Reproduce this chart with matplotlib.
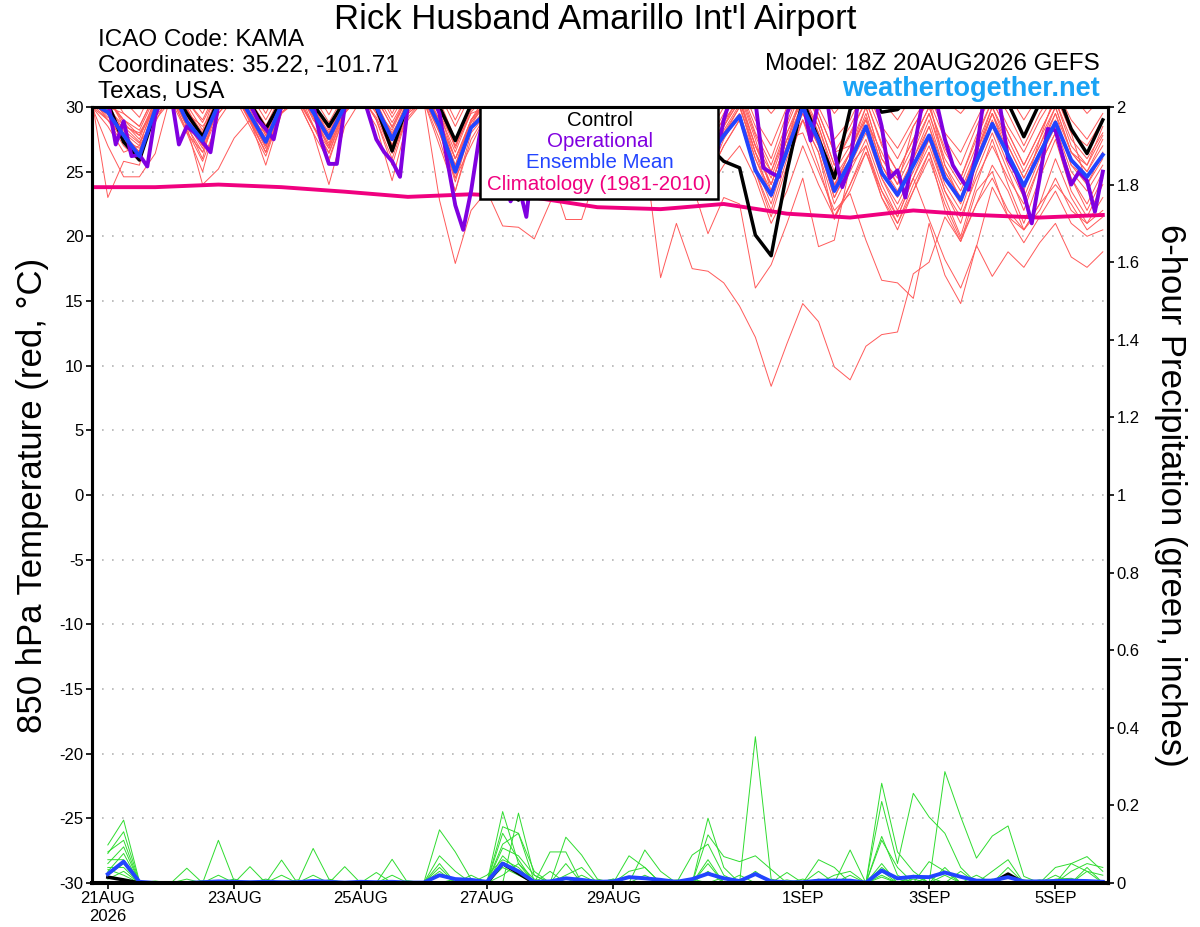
import numpy as np
import matplotlib
matplotlib.use("Agg")
import matplotlib.pyplot as plt
from matplotlib.patches import Rectangle

plt.rcParams['font.family'] = ['Liberation Sans', 'DejaVu Sans']
plt.rcParams['axes.unicode_minus'] = False

# forecast hours of the 18Z 20AUG2026 GEFS run
hours = np.arange(0, 385, 6)
op_hours = np.arange(0, 385, 3)       # operational run is 3-hourly
precip_hours = hours[1:]              # 6-h totals ending at each step
clim_hours = np.arange(0, 385, 24)

tick_hours = [6, 54, 102, 150, 198, 270, 318, 366]
tick_labels = ["21AUG\n2026", "23AUG", "25AUG", "27AUG", "29AUG", "1SEP", "3SEP", "5SEP"]

# 850 hPa temperature (C)
mean_t = [30.3, 29.6, 27.8, 26.2, 29.8, 31.5, 28.9, 27.4, 30.2, 31.5, 29.4, 27.3, 30.2,
          31.5, 29.6, 27.6, 30.1, 31.5, 30.0, 27.5, 30.1, 31.0, 28.5, 25.0, 28.4,
          29.6, 27.2, 24.8, 27.4, 29.2, 27.6, 25.8, 27.8, 29.3, 27.9, 25.9, 27.9,
          29.0, 27.4, 25.9, 27.8, 29.3, 25.1, 23.2, 26.6, 30.0, 27.4, 23.5, 25.8,
          28.5, 24.9, 23.2, 25.5, 27.8, 24.5, 22.8, 25.8, 28.7, 26.3, 23.9, 26.4, 28.8, 25.9, 24.6, 26.3]

control_t = [31.0, 30.3, 27.3, 25.9, 29.6, 31.5, 29.5, 27.7, 30.5, 31.5, 30.3, 28.3, 30.5,
             31.5, 30.2, 28.5, 30.5, 31.5, 30.0, 26.6, 30.3, 31.5, 30.0, 27.4, 30.2,
             30.0, 23.8, 22.8, 26.0, 29.0, 27.5, 25.5, 28.0, 29.5, 28.0, 26.0, 28.0,
             29.5, 28.5, 27.0, 25.8, 25.3, 20.1, 18.5, 25.0, 30.5, 27.5, 24.5, 29.8,
             31.0, 29.6, 29.8, 31.0, 32.5, 31.0, 30.5, 31.0, 32.5, 30.3, 27.7, 30.3, 31.5, 28.3, 26.4, 29.0]

operational_t = [31.0, 31.0, 30.5, 27.1, 28.9, 26.2, 26.3, 25.4, 29.3, 31.0, 31.0, 27.1, 28.5, 28.0, 27.3, 26.5,
                 30.2, 31.0, 31.5, 31.0, 30.2, 29.0, 28.3, 27.5, 30.2, 31.5, 31.5, 31.0, 30.2, 27.4, 25.6, 25.6,
                 30.0, 31.5, 31.5, 29.5, 27.5, 26.5, 25.8, 24.6, 30.2, 31.5, 31.5, 31.0, 29.5, 25.8, 22.4, 20.5,
                 23.5, 27.5, 30.5, 29.0, 25.0, 22.7, 24.0, 21.5, 27.0, 30.0, 31.0, 30.0, 28.0, 26.5, 25.0, 24.5,
                 28.0, 30.5, 31.0, 29.5, 27.5, 26.0, 25.0, 24.5, 28.0, 30.5, 31.0, 29.5, 27.5, 26.0, 25.0, 26.0,
                 29.0, 31.0, 31.5, 31.0, 30.5, 25.3, 24.9, 24.6, 29.5, 31.0, 30.5, 27.4, 30.5, 31.0, 26.5, 23.8,
                 25.5, 30.5, 31.0, 31.0, 28.5, 24.5, 25.1, 23.0, 26.5, 29.8, 31.0, 30.2, 27.5, 25.5, 24.5, 23.6,
                 26.5, 31.0, 31.0, 30.0, 26.0, 24.9, 23.3, 21.0, 24.5, 28.3, 28.2, 26.0, 24.0, 25.0, 24.3, 21.9,
                 25.0]

climatology = [23.8, 23.8, 24.0, 23.8, 23.45, 23.05, 23.25, 23.0, 22.25,
               22.1, 22.5, 21.75, 21.45, 22.0, 21.65, 21.45, 21.65]

mem_01 = [31.0, 31.5, 29.5, 28.5, 31.0, 32.5, 30.5, 29.0, 31.5, 32.5, 31.0, 29.0, 31.2,
          32.5, 30.8, 28.8, 31.0, 32.5, 31.5, 29.2, 31.3, 32.8, 31.0, 28.5, 31.0,
          32.0, 30.0, 27.5, 30.0, 31.5, 30.0, 28.0, 30.5, 31.5, 30.0, 28.0, 30.5,
          31.8, 30.2, 28.5, 30.5, 32.0, 29.0, 27.0, 30.0, 32.5, 30.0, 27.5, 29.0,
          31.5, 28.5, 26.8, 29.0, 31.0, 28.0, 26.5, 29.0, 31.5, 29.5, 27.0, 29.5, 31.5, 29.0, 27.5, 29.5]
mem_02 = [30.2, 29.0, 27.0, 25.8, 29.5, 31.0, 28.5, 26.5, 30.0, 31.2, 28.8, 26.5, 30.0,
          31.0, 28.5, 26.5, 29.8, 31.2, 29.5, 26.8, 29.8, 30.8, 28.0, 24.5, 28.5,
          30.0, 27.5, 24.0, 27.5, 29.5, 27.0, 24.5, 27.5, 29.5, 27.5, 24.5, 28.0,
          29.5, 27.5, 25.0, 28.0, 29.5, 25.5, 22.5, 26.5, 29.5, 27.0, 23.0, 25.5,
          28.0, 24.5, 22.5, 25.0, 27.5, 24.0, 22.0, 25.5, 28.5, 25.5, 23.0, 26.0, 28.5, 25.0, 23.5, 25.5]
mem_03 = [30.5, 30.0, 28.0, 26.5, 30.2, 31.8, 29.0, 27.0, 30.5, 31.8, 29.5, 27.0, 30.5,
          31.8, 29.8, 27.2, 30.4, 31.8, 30.4, 27.0, 30.5, 31.5, 29.0, 25.5, 29.0,
          30.5, 28.0, 25.5, 28.0, 30.0, 28.0, 26.0, 28.5, 30.0, 28.5, 26.5, 28.5,
          30.0, 28.0, 26.0, 28.5, 30.5, 26.5, 24.0, 27.5, 31.0, 28.0, 24.0, 26.5,
          29.5, 25.5, 23.5, 26.0, 29.0, 25.0, 23.0, 26.5, 29.5, 27.0, 24.5, 27.0, 29.5, 26.5, 25.0, 27.0]
mem_04 = [31.5, 32.0, 30.5, 29.2, 31.8, 33.0, 31.2, 29.5, 32.0, 33.0, 31.5, 29.5, 32.0,
          33.0, 31.5, 29.4, 31.8, 33.0, 32.0, 29.5, 32.0, 33.0, 31.5, 29.0, 31.5,
          32.5, 31.0, 29.0, 31.0, 32.5, 31.0, 29.5, 31.5, 32.5, 31.0, 29.0, 31.0,
          32.5, 31.0, 29.5, 31.0, 33.0, 31.0, 29.5, 31.0, 33.0, 31.5, 29.5, 31.0,
          32.5, 30.5, 29.0, 31.0, 32.0, 30.5, 29.5, 31.0, 32.5, 31.0, 29.0, 31.0, 32.5, 31.0, 29.5, 30.8]
mem_05 = [30.0, 28.5, 26.5, 27.0, 29.0, 30.5, 28.0, 25.0, 29.5, 31.0, 29.0, 28.0, 30.5,
          30.5, 28.0, 25.8, 29.5, 31.0, 29.0, 25.5, 29.5, 30.5, 27.5, 23.5, 27.5,
          29.5, 26.5, 23.5, 27.0, 29.0, 26.5, 24.0, 27.0, 29.0, 27.0, 24.0, 27.0,
          29.0, 27.0, 24.5, 27.0, 29.0, 25.0, 22.0, 26.0, 29.0, 26.5, 22.5, 25.0,
          27.5, 24.0, 21.5, 24.5, 27.0, 23.5, 21.0, 25.0, 28.0, 25.0, 22.0, 25.5, 28.0, 24.5, 22.5, 25.0]
mem_06 = [30.8, 30.5, 29.0, 27.8, 30.5, 32.0, 29.8, 28.0, 31.0, 32.0, 30.0, 28.2, 30.8,
          32.2, 30.0, 28.0, 30.6, 32.0, 30.8, 28.4, 30.8, 32.0, 30.0, 26.8, 29.8,
          31.0, 29.0, 26.5, 29.2, 31.0, 29.2, 27.2, 29.5, 31.0, 29.5, 27.5, 29.5,
          31.0, 29.0, 27.2, 29.5, 31.5, 28.0, 25.5, 28.8, 32.0, 29.0, 25.5, 27.8,
          30.5, 27.0, 25.0, 27.5, 30.0, 26.5, 24.5, 27.5, 30.5, 28.0, 25.5, 28.0, 30.5, 27.5, 26.0, 28.0]
mem_07 = [30.4, 29.2, 28.5, 27.3, 28.8, 31.2, 28.6, 26.0, 30.8, 31.5, 30.5, 28.6, 29.8,
          31.5, 29.2, 27.0, 31.0, 31.6, 29.8, 28.2, 30.8, 31.5, 28.8, 26.0, 28.5,
          30.8, 28.5, 25.8, 28.5, 31.2, 29.5, 25.5, 28.0, 30.5, 28.8, 26.0, 29.0,
          31.0, 28.5, 26.5, 28.5, 31.0, 27.5, 23.5, 27.0, 31.5, 29.5, 26.5, 27.0,
          29.0, 26.5, 24.0, 28.5, 30.5, 25.5, 22.8, 26.0, 29.5, 26.0, 23.5, 27.5, 31.0, 28.0, 24.0, 26.5]
mem_08 = [30.6, 30.8, 28.5, 28.0, 30.0, 31.5, 29.5, 28.5, 30.2, 31.0, 29.0, 26.5, 29.5,
          31.0, 29.5, 28.5, 30.0, 31.2, 30.0, 28.0, 30.0, 31.0, 29.5, 27.0, 29.5,
          30.0, 28.0, 26.0, 28.8, 30.5, 28.0, 26.5, 29.0, 30.8, 29.0, 27.0, 28.5,
          30.5, 29.5, 27.5, 29.0, 30.5, 27.0, 25.0, 28.0, 30.5, 28.5, 24.5, 26.5,
          30.0, 26.0, 24.5, 27.0, 29.5, 26.0, 24.0, 27.0, 30.0, 27.5, 25.0, 27.5, 30.0, 26.5, 25.5, 28.5]
mem_09 = [31.0, 29.8, 27.5, 26.0, 29.8, 31.5, 29.2, 27.8, 30.5, 31.5, 29.8, 27.5, 30.2,
          31.5, 29.0, 27.5, 30.2, 31.5, 30.0, 27.5, 30.2, 31.0, 28.5, 25.0, 28.8,
          30.5, 27.8, 25.0, 28.0, 30.2, 27.5, 25.0, 28.0, 30.0, 28.0, 25.5, 28.2,
          30.2, 28.0, 25.5, 28.2, 30.2, 26.0, 23.0, 27.0, 30.5, 28.0, 24.0, 26.0,
          29.0, 25.0, 23.0, 25.5, 28.5, 24.5, 22.5, 26.0, 29.0, 26.0, 24.0, 26.5, 29.0, 25.5, 24.5, 26.5]
mem_10 = [30.3, 29.5, 28.0, 27.0, 30.5, 32.0, 30.0, 27.5, 30.8, 32.0, 30.2, 27.8, 30.5,
          31.8, 30.0, 27.8, 30.5, 32.0, 30.5, 27.0, 29.8, 31.5, 29.5, 26.0, 29.0,
          31.0, 28.5, 26.0, 28.5, 30.8, 28.5, 26.5, 29.0, 30.5, 28.0, 26.0, 28.5,
          30.5, 28.5, 26.5, 28.8, 30.8, 27.0, 24.5, 28.0, 31.0, 28.5, 25.0, 27.0,
          30.0, 26.0, 24.0, 26.5, 29.5, 25.5, 23.5, 26.5, 30.0, 27.0, 24.5, 27.0, 30.0, 26.5, 25.0, 27.5]
mem_11 = [30.2, 30.0, 29.5, 28.5, 31.0, 32.0, 30.5, 28.8, 31.2, 32.2, 30.5, 28.5, 31.0,
          32.0, 30.5, 28.2, 31.0, 32.0, 31.0, 28.8, 31.0, 32.0, 30.5, 27.5, 30.2,
          31.5, 29.5, 27.0, 29.5, 31.2, 29.5, 27.5, 30.0, 31.0, 29.5, 27.5, 29.8,
          31.2, 29.5, 27.8, 30.0, 31.5, 28.5, 26.0, 29.5, 31.8, 29.5, 26.5, 28.5,
          31.0, 28.0, 26.0, 28.5, 30.5, 27.5, 25.5, 28.5, 31.0, 28.5, 26.5, 29.0, 31.0, 28.0, 27.0, 29.0]
mem_12 = [30.6, 29.0, 27.8, 26.5, 29.5, 31.2, 29.0, 27.0, 30.0, 31.2, 29.2, 26.8, 30.0,
          31.2, 29.2, 26.8, 30.0, 31.2, 29.8, 26.8, 29.8, 31.0, 28.8, 24.8, 28.8,
          30.2, 27.5, 24.5, 27.8, 30.0, 27.8, 25.0, 28.0, 30.0, 28.0, 25.5, 27.8,
          30.0, 27.5, 25.5, 28.0, 30.0, 26.5, 24.0, 27.5, 30.2, 27.5, 23.8, 26.5,
          29.2, 25.5, 23.2, 26.0, 28.5, 25.0, 23.0, 26.5, 29.5, 26.5, 24.0, 26.5, 29.5, 25.5, 24.0, 26.0]
mem_13 = [31.2, 30.6, 29.0, 28.2, 30.8, 32.2, 30.2, 28.2, 31.5, 32.5, 30.4, 28.0, 30.8,
          32.2, 29.8, 27.8, 30.8, 32.5, 30.6, 28.5, 31.0, 32.2, 29.8, 27.0, 30.0,
          31.5, 29.0, 26.8, 29.5, 31.0, 29.0, 27.0, 29.2, 31.0, 29.0, 26.8, 29.5,
          31.2, 29.0, 26.8, 29.2, 31.2, 27.8, 25.0, 28.5, 31.5, 29.0, 25.5, 28.0,
          30.5, 27.2, 25.0, 27.5, 30.0, 26.8, 24.5, 27.8, 30.5, 28.0, 25.5, 28.0, 30.5, 27.0, 25.5, 27.8]
mem_14 = [30.5, 23.0, 25.8, 25.5, 30.0, 31.0, 28.0, 26.5, 29.5, 31.0, 29.0, 27.0, 29.8,
          30.8, 28.5, 26.0, 29.5, 31.0, 29.0, 26.0, 29.5, 30.5, 27.0, 23.5, 28.0,
          29.5, 27.0, 24.5, 27.5, 29.5, 27.5, 25.0, 27.5, 29.5, 27.5, 25.0, 27.5,
          29.5, 27.0, 24.5, 27.0, 29.0, 25.0, 21.5, 25.5, 29.0, 25.5, 21.5, 24.0,
          27.0, 23.0, 20.5, 23.5, 26.5, 23.0, 20.0, 24.0, 27.5, 24.0, 21.0, 24.5, 27.5, 23.5, 21.5, 24.0]
mem_15 = [30.0, 27.0, 24.6, 24.6, 26.4, 31.0, 28.5, 24.0, 25.2, 27.6, 29.0, 25.5, 29.5,
          30.5, 28.0, 24.0, 28.5, 30.5, 28.5, 24.3, 29.0, 30.5, 22.8, 17.9, 22.0,
          23.5, 20.8, 20.7, 19.8, 22.6, 25.0, 24.0, 26.0, 28.5, 26.5, 24.0, 26.0,
          27.5, 26.0, 23.5, 25.5, 27.0, 24.5, 21.0, 23.5, 27.0, 24.0, 21.5, 23.5,
          26.5, 23.0, 21.0, 23.5, 26.0, 22.5, 19.8, 22.5, 25.5, 23.5, 20.5, 22.5, 26.0, 23.0, 21.0, 23.0]
mem_16 = [30.0, 29.0, 27.5, 26.8, 29.2, 30.8, 28.2, 25.8, 29.0, 30.8, 28.5, 26.2, 29.6,
          30.6, 28.5, 26.8, 29.8, 30.8, 29.2, 26.5, 29.2, 30.6, 28.0, 24.5, 27.0,
          29.5, 26.5, 23.5, 26.5, 25.0, 21.3, 21.3, 25.0, 28.5, 26.5, 24.0, 27.5,
          28.5, 27.0, 24.5, 27.5, 29.5, 26.0, 23.5, 27.0, 29.5, 27.0, 23.0, 25.5,
          28.5, 24.5, 22.0, 24.5, 27.5, 23.5, 21.5, 24.5, 27.0, 24.5, 22.5, 25.5, 28.0, 24.5, 22.0, 24.5]
mem_17 = [30.5, 30.2, 28.2, 27.2, 30.2, 31.5, 29.5, 27.8, 30.5, 31.5, 29.6, 27.6, 30.4,
          31.5, 29.6, 27.5, 30.4, 31.5, 30.2, 27.8, 30.4, 31.2, 29.0, 26.0, 29.0,
          30.5, 28.0, 25.5, 28.0, 30.0, 28.0, 25.5, 28.0, 29.5, 27.0, 26.5, 16.8,
          21.0, 17.5, 17.3, 16.4, 14.6, 12.2, 8.4, 11.7, 14.8, 13.4, 9.9, 8.9,
          11.5, 12.4, 12.6, 17.1, 18.0, 21.5, 19.6, 22.5, 24.5, 22.0, 20.5, 22.5, 24.0, 22.5, 20.5, 21.5]
mem_18 = [30.4, 29.8, 28.6, 27.8, 30.0, 31.6, 29.4, 27.2, 30.4, 31.6, 29.4, 27.0, 30.2,
          31.4, 29.4, 27.0, 30.2, 31.6, 30.0, 27.0, 30.2, 31.2, 28.6, 25.5, 29.0,
          30.5, 28.0, 25.0, 28.0, 30.0, 28.0, 25.5, 28.5, 30.0, 28.2, 25.5, 28.0,
          28.0, 24.0, 20.2, 23.0, 22.5, 16.0, 17.8, 21.0, 24.5, 19.2, 19.7, 25.5,
          27.0, 23.5, 21.0, 24.0, 26.5, 22.0, 19.6, 23.5, 25.0, 21.5, 19.5, 21.5, 23.5, 21.0, 20.0, 20.5]
mem_19 = [30.8, 30.6, 28.8, 27.5, 30.6, 32.0, 29.8, 27.8, 30.8, 32.0, 30.2, 27.8, 30.8,
          31.8, 30.0, 27.5, 30.8, 32.0, 30.4, 27.8, 30.6, 31.8, 29.4, 26.5, 29.6,
          31.0, 29.0, 26.0, 28.8, 30.5, 28.5, 26.0, 28.8, 30.5, 28.8, 26.5, 28.8,
          30.5, 28.5, 26.0, 28.5, 30.5, 27.0, 24.0, 27.5, 28.0, 25.0, 22.0, 23.3,
          19.7, 16.6, 16.4, 15.2, 21.0, 17.0, 14.8, 19.3, 16.9, 18.8, 17.6, 19.5, 21.0, 18.4, 17.6, 18.8]
mem_20 = [30.2, 29.4, 27.2, 26.6, 29.6, 31.4, 28.8, 26.8, 29.8, 31.4, 29.0, 26.5, 29.8,
          31.4, 28.6, 26.4, 29.6, 31.2, 29.6, 26.4, 29.6, 31.0, 28.2, 24.2, 28.4,
          30.0, 27.5, 24.5, 27.5, 29.8, 27.2, 24.8, 27.8, 29.8, 27.5, 25.2, 27.8,
          29.8, 27.5, 25.0, 27.8, 30.0, 26.5, 23.0, 26.8, 29.0, 26.5, 21.3, 24.0,
          26.5, 23.5, 21.5, 24.5, 21.3, 18.2, 16.0, 19.2, 23.8, 21.5, 20.5, 22.0, 24.5, 22.0, 21.0, 22.0]

temp_members = [mem_01, mem_02, mem_03, mem_04, mem_05, mem_06, mem_07, mem_08, mem_09, mem_10,
                mem_11, mem_12, mem_13, mem_14, mem_15, mem_16, mem_17, mem_18, mem_19, mem_20]

# 6-hour precipitation (inches)
mean_p = [.023, .055, .003, 0, 0, 0, .002, .004, .003, .002, .003, .002, .002, .005, .003, .001,
          .003, .002, .003, .001, .001, .02, .01, .008, .003, .05, .03, .003, .004, .012, .008, .003,
          .004, .015, .012, .008, .003, .01, .024, .012, .005, .023, .004, .002, .002, .006, .006, .006,
          .001, .032, .012, .016, .015, .027, .016, .006, .006, .015, .004, .004, .005, .006, .005, .003]
control_p = [.015, .008, 0, 0, 0, 0, 0, 0, 0, 0, 0, 0, 0, 0, 0, 0,
             0, 0, 0, 0, 0, 0, 0, 0, 0, .05, .025, 0, 0, 0, 0, 0,
             0, 0, 0, 0, 0, 0, 0, 0, 0, 0, 0, 0, 0, 0, 0, 0,
             0, 0, 0, 0, 0, 0, 0, 0, 0, .023, 0, 0, 0, 0, 0, 0]

pmem_01 = [.098, .162, .004, 0, 0, 0, 0, 0, 0, 0, 0, 0, 0, 0, 0, 0,
           0, 0, 0, 0, 0, 0, 0, 0, 0, .184, .05, 0, 0, 0, 0, 0,
           0, 0, 0, 0, 0, 0, 0, 0, 0, .377, .01, 0, 0, 0, 0, 0,
           0, .257, .08, .03, 0, 0, 0, 0, 0, 0, 0, 0, 0, 0, 0, 0]
pmem_02 = [.076, .132, .002, 0, 0, 0, 0, .11, .005, 0, 0, 0, 0, 0, 0, 0,
           0, 0, 0, 0, 0, 0, 0, 0, 0, 0, .18, .02, 0, 0, 0, 0,
           0, 0, 0, 0, 0, 0, .167, .04, 0, 0, 0, 0, 0, 0, 0, 0,
           0, 0, 0, 0, 0, .287, .171, .064, .121, .147, .017, 0, 0, 0, 0, 0]
pmem_03 = [.05, .093, 0, 0, 0, 0, 0, 0, 0, 0, 0, 0, 0, .089, .01, 0,
           0, 0, 0, 0, 0, .137, .08, .01, 0, .145, .128, .005, 0, .118, .072, .01,
           0, 0, 0, 0, 0, 0, 0, 0, 0, 0, 0, 0, 0, 0, 0, 0,
           0, .21, .05, .231, .17, .128, .04, 0, 0, 0, 0, 0, 0, 0, 0, 0]
pmem_04 = [.03, .076, 0, 0, 0, .038, 0, 0, 0, 0, 0, .059, 0, 0, 0, 0,
           0, 0, .061, 0, 0, 0, 0, 0, 0, .128, .06, 0, .08, .08, 0, 0,
           0, 0, .085, .03, 0, 0, .124, .068, .055, .07, .035, 0, 0, 0, 0, .085,
           0, .11, .04, 0, 0, 0, 0, 0, 0, 0, 0, 0, .04, .05, .068, .03]
pmem_05 = [.06, .06, 0, 0, 0, 0, 0, 0, 0, .042, 0, 0, 0, 0, 0, .042,
           0, 0, 0, 0, 0, .07, .03, 0, 0, .1, .128, .03, 0, 0, 0, 0,
           0, .07, .04, 0, 0, .072, .1, .02, 0, 0, 0, 0, 0, .06, .04, 0,
           0, .05, 0, 0, .055, .03, 0, 0, 0, .04, 0, 0, 0, .03, .05, .04]
pmem_06 = [.04, .04, 0, 0, 0, 0, 0, 0, 0, 0, 0, 0, 0, 0, 0, 0,
           0, .027, 0, 0, 0, .05, 0, .02, 0, .07, .03, 0, 0, .02, .04, 0,
           0, 0, 0, 0, 0, 0, .05, 0, 0, 0, 0, .027, 0, .03, 0, 0,
           0, .12, .02, 0, 0, 0, 0, 0, .03, .06, 0, 0, .02, 0, .04, 0]
pmem_07 = [.02, .05, 0, 0, 0, .01, 0, .02, 0, 0, 0, .02, 0, 0, 0, 0,
           0, 0, 0, 0, 0, .03, 0, 0, .02, .06, .04, 0, .03, 0, 0, 0,
           0, .03, .04, 0, 0, 0, .06, 0, 0, .03, 0, 0, 0, 0, .02, .03,
           0, .03, 0, .02, 0, .04, 0, .02, 0, .02, 0, 0, 0, 0, .03, .02]
pmem_08 = [.08, .11, 0, .005, 0, 0, 0, 0, 0, 0, 0, 0, 0, .02, 0, 0,
           0, 0, .02, 0, 0, 0, 0, 0, 0, .09, .07, .02, 0, .05, 0, 0,
           .01, 0, 0, .01, 0, 0, .03, 0, .02, 0, 0, 0, .01, 0, 0, .02,
           0, .04, .01, 0, 0, 0, .03, 0, 0, 0, 0, 0, 0, .05, .03, 0]
pmem_09 = [.01, .03, 0, 0, 0, 0, .006, 0, 0, 0, .01, 0, 0, 0, .008, 0,
           0, 0, 0, .006, 0, 0, .01, 0, 0, .04, .02, 0, 0, 0, .02, 0,
           .01, 0, 0, 0, .008, 0, 0, .015, 0, 0, .006, 0, 0, .01, 0, 0,
           0, .02, 0, 0, .015, 0, 0, 0, .01, 0, 0, .008, 0, 0, 0, .006]
pmem_10 = [.035, .02, 0, 0, 0, 0, 0, 0, .01, 0, 0, 0, .008, 0, 0, 0,
           .006, 0, 0, 0, 0, .04, 0, 0, 0, .02, .05, .01, 0, 0, 0, .008,
           0, 0, .02, 0, 0, .01, 0, 0, 0, 0, 0, .008, 0, 0, .01, 0,
           0, .015, 0, .01, 0, .02, 0, 0, 0, 0, .008, 0, .01, .012, 0, 0]

precip_members = [pmem_01, pmem_02, pmem_03, pmem_04, pmem_05,
                  pmem_06, pmem_07, pmem_08, pmem_09, pmem_10]

legend_labels = ["Control", "Operational", "Ensemble Mean", "Climatology (1981-2010)"]

RED = '#ff5a5a'
GREEN = '#2fdc2f'
PURPLE = '#8000e0'
BLUE = '#2244ff'
MAGENTA = '#f0007f'
legend_colors = ['black', PURPLE, BLUE, MAGENTA]

fig = plt.figure(figsize=(12, 9.27), dpi=100)
ax = fig.add_axes([0.0767, 0.0475, 0.8467, 0.8371])
ax2 = ax.twinx()

for m in temp_members:
    ax.plot(hours, m, color=RED, lw=0.7, zorder=1)
ax.plot(clim_hours, climatology, color=MAGENTA, lw=2.8, zorder=3)
ax.plot(hours, control_t, color='black', lw=2.5, zorder=4)
ax.plot(op_hours, operational_t, color=PURPLE, lw=2.8, zorder=5)
ax.plot(hours, mean_t, color=BLUE, lw=2.8, zorder=6)

for m in precip_members:
    ax2.plot(precip_hours, m, color=GREEN, lw=0.7)
ax2.plot(precip_hours, control_p, color='black', lw=2.5)
ax2.plot(precip_hours, mean_p, color=BLUE, lw=2.8)

ax.set_xlim(0, 386)
ax.set_ylim(-30, 30)
ax2.set_ylim(0, 2)

ax.set_yticks(np.arange(-30, 31, 5))
ax.set_xticks(tick_hours)
ax.set_xticklabels(tick_labels)
ax2.set_yticks(np.arange(0, 2.01, 0.2))
ax2.set_yticklabels(["0", "0.2", "0.4", "0.6", "0.8", "1", "1.2", "1.4", "1.6", "1.8", "2"])

ax.set_axisbelow(True)
ax.grid(axis='y', color='#b4b4b4', lw=1.2, ls=(0, (1, 5)))

for a in (ax, ax2):
    for side, sp in a.spines.items():
        sp.set_linewidth(2.9 if side == 'bottom' else 2.2)
    a.tick_params(direction='out', length=4, width=1.2, labelsize=12, pad=2)

# legend box with coloured text
ax.add_patch(Rectangle((0.3819, 0.8814), 0.2342, 0.1186, transform=ax.transAxes,
                       facecolor='white', edgecolor='black', lw=1.8, zorder=20, clip_on=False))
for label, color, yy in zip(legend_labels, legend_colors, [0.982, 0.955, 0.928, 0.8995]):
    ax.text(0.4995, yy, label, color=color, transform=ax.transAxes, ha='center', va='center',
            fontsize=14.8, zorder=21)

fig.text(0.496, 0.979, "Rick Husband Amarillo Int'l Airport", ha='center', va='center', fontsize=25)
fig.text(0.0817, 0.957, "ICAO Code: KAMA", ha='left', va='center', fontsize=17.5)
fig.text(0.0817, 0.929, "Coordinates: 35.22, -101.71", ha='left', va='center', fontsize=17.5)
fig.text(0.0817, 0.901, "Texas, USA", ha='left', va='center', fontsize=17.5)
fig.text(0.9167, 0.931, "Model: 18Z 20AUG2026 GEFS", ha='right', va='center', fontsize=17.5)
fig.text(0.9167, 0.904, "weathertogether.net", ha='right', va='center', fontsize=19.5,
         fontweight='bold', color='#1aa3f5')

fig.text(0.0275, 0.466, "850 hPa Temperature (red, °C)", rotation=90, ha='center', va='center',
         fontsize=25)
fig.text(0.975, 0.466, "6-hour Precipitation (green, inches)", rotation=270, ha='center',
         va='center', fontsize=25)

fig.savefig("out.png", dpi=100)
